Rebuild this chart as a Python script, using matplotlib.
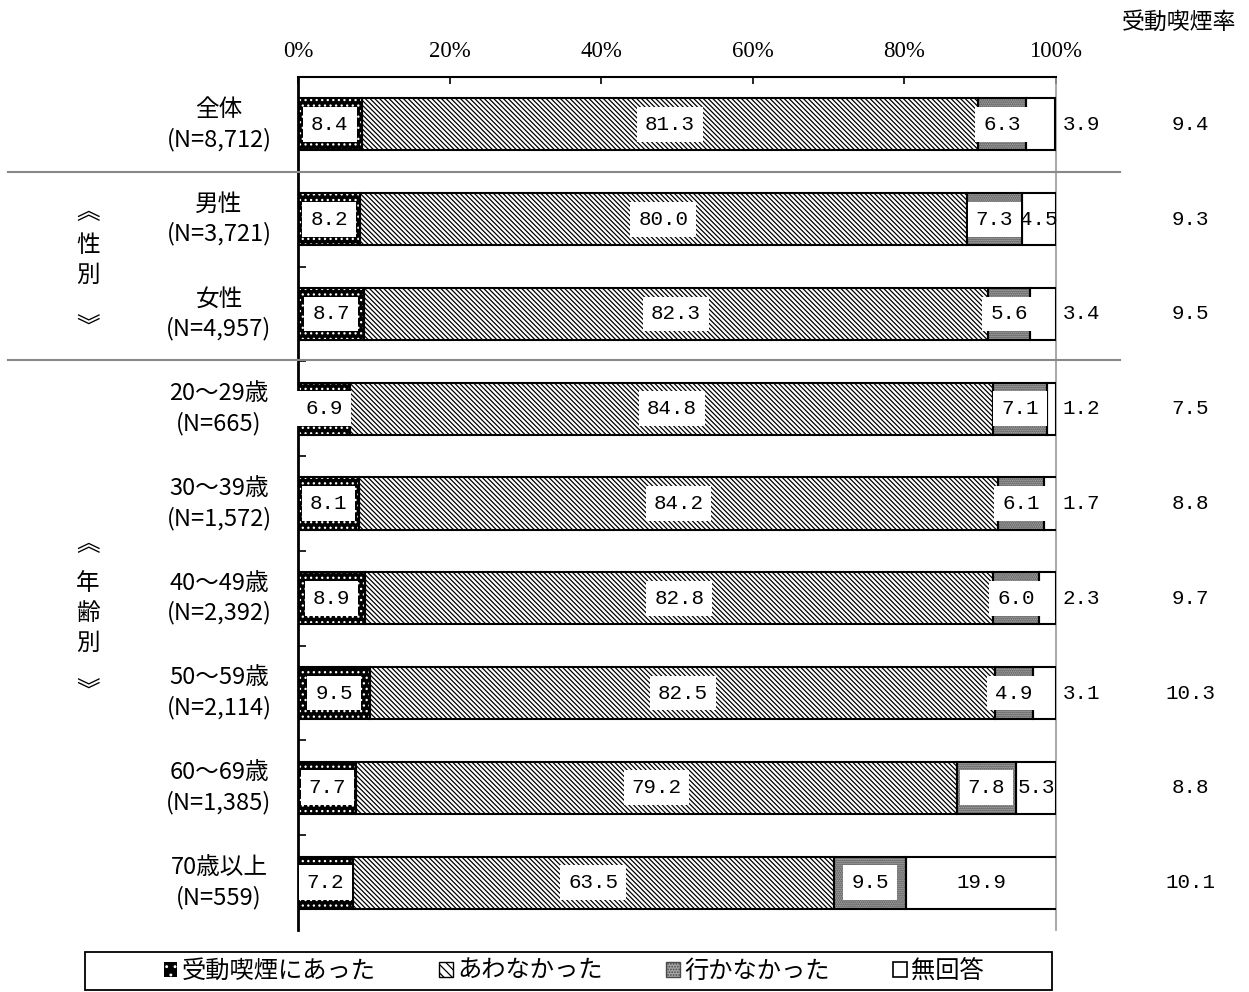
import matplotlib
matplotlib.use("Agg")
import matplotlib.pyplot as plt
from matplotlib.patches import Patch, Rectangle
from matplotlib.lines import Line2D
import numpy as np

plt.rcParams['font.family'] = ['Noto Sans CJK JP', 'DejaVu Sans']
plt.rcParams['hatch.linewidth'] = 0.9

categories = ["全体", "男性", "女性", "20〜29歳", "30〜39歳", "40〜49歳",
              "50〜59歳", "60〜69歳", "70歳以上"]
counts = ["(N=8,712)", "(N=3,721)", "(N=4,957)", "(N=665)", "(N=1,572)",
          "(N=2,392)", "(N=2,114)", "(N=1,385)", "(N=559)"]
exposed = [8.4, 8.2, 8.7, 6.9, 8.1, 8.9, 9.5, 7.7, 7.2]
not_exposed = [81.3, 80.0, 82.3, 84.8, 84.2, 82.8, 82.5, 79.2, 63.5]
did_not_go = [6.3, 7.3, 5.6, 7.1, 6.1, 6.0, 4.9, 7.8, 9.5]
no_answer = [3.9, 4.5, 3.4, 1.2, 1.7, 2.3, 3.1, 5.3, 19.9]
rate = [9.4, 9.3, 9.5, 7.5, 8.8, 9.7, 10.3, 8.8, 10.1]
series_names = ["受動喫煙にあった", "あわなかった", "行かなかった", "無回答"]
xticks = [0, 20, 40, 60, 80, 100]
groups = [("性別", [213, 245, 275, 328]), ("年齢別", [545, 583, 613, 643, 692])]

W, H = 1249, 992
fig = plt.figure(figsize=(W / 100, H / 100), dpi=100)
ax = fig.add_axes([298 / W, 1 - 930 / H, 758 / W, (930 - 77) / H])

y = np.arange(len(categories))
bh = 0.55
series = [exposed, not_exposed, did_not_go, no_answer]
styles = [
    dict(fc="black", hc="white", hatch="..."),
    dict(fc="white", hc="black", hatch="\\" * 7),
    dict(fc="#a8a8a8", hc="#4a4a4a", hatch="........"),
    dict(fc="white", hc="white", hatch=None),
]
left = np.zeros(len(categories))
for vals, st in zip(series, styles):
    vals = np.array(vals)
    ax.barh(y, vals, left=left, height=bh, color=st["fc"], edgecolor=st["hc"],
            hatch=st["hatch"], linewidth=0, zorder=2)
    ax.barh(y, vals, left=left, height=bh, fill=False, edgecolor="black",
            linewidth=1.5, zorder=3)
    left += vals

numfont = dict(family="Liberation Mono", fontsize=15)
box = dict(boxstyle="square,pad=0.38", fc="white", ec="none")
left = np.zeros(len(categories))
for k, vals in enumerate(series):
    for i, v in enumerate(vals):
        c = left[i] + v / 2
        if k < 3:
            ax.text(c, i, f"{v:.1f}", ha="center", va="center", bbox=box,
                    zorder=4, **numfont)
        else:
            if v >= 4.5:
                ax.text(c, i, f"{v:.1f}", ha="center", va="center", zorder=4, **numfont)
            else:
                ax.text(103.3, i, f"{v:.1f}", ha="center", va="center",
                        clip_on=False, **numfont)
    left += np.array(vals)

ax.set_xlim(0, 100)
ax.set_ylim(len(categories) - 0.5, -0.5)
ax.xaxis.tick_top()
ax.set_xticks(xticks)
ax.set_xticklabels([f"{t}%" for t in xticks], family="Liberation Serif", fontsize=16.5)
ax.tick_params(axis="x", direction="in", length=5, width=1.2, pad=11)
ax.set_yticks([])
ax.set_yticks(np.arange(0.5, len(categories) - 1, 1), minor=True)
ax.tick_params(axis="y", which="minor", direction="in", length=6, width=1.2)
ax.yaxis.set_minor_formatter(plt.NullFormatter())
ax.spines["bottom"].set_visible(False)
ax.spines["left"].set_linewidth(2)
ax.spines["top"].set_linewidth(1.5)
ax.spines["right"].set_color("#999999")
ax.spines["right"].set_linewidth(1.2)

# category labels
xl = (219 - 298) / 758
for i, (c, n) in enumerate(zip(categories, counts)):
    ax.text(xl, i, f"{c}\n{n}", transform=ax.get_yaxis_transform(), ha="center",
            va="center", fontsize=17, linespacing=1.35, multialignment="center")

# right column
xr = (1190 - 298) / 758
for i, r in enumerate(rate):
    ax.text(xr, i, f"{r:.1f}", transform=ax.get_yaxis_transform(), ha="center",
            va="center", **numfont)
fig.text(1179 / W, 1 - 22 / H, "受動喫煙率", ha="center", va="center", fontsize=16.5)

# group labels
for name, ys in groups:
    chars = ["︽"] + list(name) + ["︾"]
    for ch, yy in zip(chars, ys):
        fig.text(88 / W, 1 - yy / H, ch, ha="center", va="center", fontsize=17)

# separators
for yy in [172, 360]:
    fig.add_artist(Line2D([8 / W, 1120 / W], [1 - yy / H, 1 - yy / H],
                          color="#888888", lw=1.5))

# legend
handles = [
    Patch(facecolor="black", edgecolor="white", hatch="..", linewidth=0),
    Patch(facecolor="white", edgecolor="black", hatch="\\\\\\\\", linewidth=1),
    Patch(facecolor="#a8a8a8", edgecolor="#4a4a4a", hatch="......", linewidth=1),
    Patch(facecolor="white", edgecolor="black", linewidth=1.2),
]
fig.add_artist(Rectangle((85 / W, 1 - 990 / H), 967 / W, 38 / H,
                         transform=fig.transFigure, fill=False, ec="black", lw=1.3))
leg = fig.legend(handles, series_names, loc="center", ncol=4,
                 bbox_to_anchor=(574 / W, 1 - 971 / H), fontsize=17.5,
                 frameon=False, handlelength=0.55, handleheight=0.55,
                 handletextpad=0.2, columnspacing=2.6, borderpad=0.2)

fig.savefig("out.png", dpi=100)
